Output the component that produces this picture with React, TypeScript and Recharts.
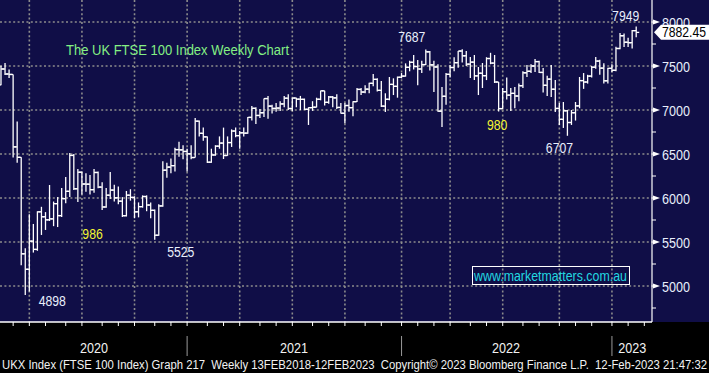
import { ComposedChart, Bar, Scatter, XAxis, YAxis, CartesianGrid } from "recharts";

// weekly bars, Feb 2020 -> Feb 2023 (index = week number)
const opens = [
  7286, 7466, 7409, 7404, 6581, 6462, 5366, 5190, 5510, 5416,
  5843, 5787, 5752, 5763, 5936, 5800, 5993, 6076, 6484, 6105,
  6293, 6159, 6157, 6095, 6290, 6124, 5898, 6032, 6090, 6002,
  5964, 5799, 6032, 6007, 5843, 5902, 6017, 5920, 5860, 5577,
  5910, 6316, 6351, 6368, 6550, 6547, 6529, 6502, 6460, 6873,
  6735, 6695, 6407, 6489, 6589, 6624, 6483, 6630, 6761, 6709,
  6741, 6737, 6916, 7019, 6938, 6969, 7130, 7044, 7018, 7022,
  7069, 7134, 7017, 7136, 7123, 7121, 7008, 7027, 7032, 7122,
  7218, 7087, 7148, 7138, 7029, 6963, 7051, 7027, 7095, 7234,
  7204, 7237, 7303, 7348, 7223, 7044, 7122, 7291, 7269, 7372,
  7385, 7485, 7542, 7494, 7466, 7516, 7661, 7513, 7489, 6987,
  7156, 7405, 7483, 7538, 7670, 7616, 7521, 7544, 7388, 7418,
  7390, 7585, 7533, 7318, 7016, 7208, 7169, 7189, 7159, 7276,
  7423, 7440, 7500, 7550, 7427, 7281, 7351, 7236, 7018, 6894,
  6991, 6858, 6969, 7047, 7334, 7318, 7385, 7486, 7556, 7476,
  7332, 7473, 7451, 7699, 7844, 7770, 7765, 7902,
];
const highs = [
  7502, 7535, 7460, 7404, 6870, 6462, 5430, 5815, 5705, 5849,
  5900, 5840, 6148, 5960, 6011, 6114, 6239, 6511, 6500, 6330,
  6300, 6280, 6260, 6330, 6300, 6180, 6115, 6296, 6150, 6130,
  6010, 6080, 6100, 6020, 5950, 6030, 6030, 5950, 5870, 5930,
  6418, 6400, 6450, 6570, 6640, 6600, 6560, 6600, 6909, 6880,
  6800, 6700, 6560, 6600, 6700, 6800, 6700, 6780, 6800, 6760,
  6800, 6920, 7045, 7030, 7010, 7130, 7160, 7060, 7080, 7100,
  7160, 7180, 7140, 7140, 7160, 7130, 7030, 7100, 7140, 7220,
  7220, 7160, 7160, 7180, 7080, 7080, 7120, 7100, 7250, 7250,
  7280, 7310, 7409, 7360, 7330, 7190, 7375, 7360, 7380, 7420,
  7530, 7560, 7625, 7568, 7560, 7687, 7670, 7560, 7520, 7262,
  7420, 7510, 7600, 7670, 7690, 7670, 7602, 7625, 7489, 7534,
  7600, 7650, 7625, 7318, 7250, 7370, 7250, 7260, 7300, 7440,
  7511, 7520, 7580, 7560, 7477, 7390, 7511, 7341, 7080, 7091,
  7000, 7000, 7091, 7375, 7420, 7400, 7500, 7602, 7570, 7530,
  7480, 7520, 7720, 7875, 7870, 7820, 7909, 7949,
];
const lows = [
  7280, 7398, 7365, 6460, 6400, 5237, 4898, 4937, 5380, 5400,
  5580, 5637, 5739, 5680, 5670, 5784, 5940, 6011, 6091, 5955,
  6040, 6070, 6040, 6060, 6110, 5864, 5890, 5990, 5960, 5930,
  5784, 5790, 5970, 5770, 5780, 5890, 5850, 5770, 5525, 5570,
  5900, 6230, 6280, 6300, 6470, 6440, 6300, 6440, 6460, 6700,
  6650, 6398, 6400, 6480, 6560, 6443, 6480, 6580, 6690, 6560,
  6700, 6730, 6880, 6840, 6910, 6920, 6900, 6960, 6980, 6990,
  7030, 7000, 6990, 7030, 7000, 7000, 6830, 6990, 7030, 7110,
  7050, 7070, 7030, 7010, 6960, 6850, 6980, 6930, 7090, 7170,
  7190, 7190, 7270, 7210, 7034, 6977, 7110, 7170, 7140, 7360,
  7380, 7440, 7460, 7280, 7420, 7510, 7450, 7205, 6980, 6807,
  7060, 7370, 7440, 7480, 7540, 7500, 7364, 7341, 7170, 7250,
  7340, 7520, 7307, 6983, 7010, 7120, 6990, 7020, 7100, 7250,
  7375, 7420, 7432, 7420, 7200, 7160, 7148, 6977, 6830, 6796,
  6707, 6830, 6880, 7020, 7240, 7300, 7370, 7470, 7400, 7300,
  7300, 7430, 7440, 7690, 7716, 7716, 7700, 7826,
];
const closes = [
  7466, 7409, 7404, 6581, 6462, 5366, 5190, 5510, 5416, 5843,
  5787, 5752, 5763, 5936, 5800, 5993, 6076, 6484, 6105, 6293,
  6159, 6157, 6095, 6290, 6124, 5898, 6032, 6090, 6002, 5964,
  5799, 6032, 6007, 5843, 5902, 6017, 5920, 5860, 5577, 5910,
  6316, 6351, 6368, 6550, 6547, 6529, 6502, 6460, 6873, 6735,
  6695, 6407, 6489, 6589, 6624, 6483, 6630, 6761, 6709, 6741,
  6737, 6916, 7019, 6938, 6969, 7130, 7044, 7018, 7022, 7069,
  7134, 7017, 7136, 7123, 7121, 7008, 7027, 7032, 7122, 7218,
  7087, 7148, 7138, 7029, 6963, 7051, 7027, 7095, 7234, 7204,
  7237, 7303, 7348, 7223, 7044, 7122, 7291, 7269, 7372, 7385,
  7485, 7542, 7494, 7466, 7516, 7661, 7513, 7489, 6987, 7156,
  7405, 7483, 7538, 7670, 7616, 7521, 7544, 7388, 7418, 7390,
  7585, 7533, 7318, 7016, 7208, 7169, 7189, 7159, 7276, 7423,
  7440, 7500, 7550, 7427, 7281, 7351, 7236, 7018, 6894, 6991,
  6858, 6969, 7047, 7334, 7318, 7385, 7486, 7556, 7476, 7332,
  7473, 7451, 7699, 7844, 7770, 7765, 7902, 7882,
];
const lastPrice = 7882.45;

// axis ticks (week index units)
const monthTicks = [
  3, 7, 11, 16, 20, 25, 29, 33, 38, 42, 46, 51, 55, 59, 64, 68, 72, 77, 81,
  85, 90, 94, 99, 103, 107, 111, 116, 120, 124, 129, 133, 138, 142, 146, 151, 155, 159,
];
const quarterTicks = [7, 20, 33, 46, 59, 72, 85, 99, 111, 124, 138, 151];
const yearLabels = ["2020", "2021", "2022", "2023"];
const yearMids = [23, 72.4, 124.8, 156];
const yearStarts = [46, 99, 151];
const priceGrid = [5000, 5500, 6000, 6500, 7000, 7500, 8000];
const priceMinor = [4750, 5250, 5750, 6250, 6750, 7250, 7750];

// annotated extremes
const notes = [
  { i: 105, price: 7687, text: "7687" },
  { i: 157, price: 7949, text: "7949" },
  { i: 123, price: 6983, text: "980" },
  { i: 140, price: 6707, text: "6707" },
  { i: 6, price: 4898, text: "4898" },
  { i: 23, price: 6060, text: "986" },
  { i: 38, price: 5525, text: "5525" },
];
const noteOffset: Record<string, [number, number]> = {
  "7687": [-14, -7.5],
  "7949": [-10.5, -5.5],
  "980": [-1.5, 18.5],
  "6707": [-8, 17],
  "4898": [27, 11],
  "986": [-1.5, 46],
  "5525": [26, 17],
};
const yellowNotes = ["980", "986"];

const data = closes.map((close, i) => ({
  i,
  open: opens[i],
  high: highs[i],
  low: lows[i],
  close,
}));

const NAVY = "#100e47";
const LABEL = "#e9eefc";
const FONT = "'Liberation Sans', Arial, sans-serif";

const OhlcBar = (props: any) => {
  const { x, y, width, height, payload } = props;
  if (!payload) return null;
  const top = Math.min(y, y + height);
  const bottom = Math.max(y, y + height);
  const cx = x + width / 2;
  const span = payload.high - payload.low || 1;
  const yOf = (v: number) => top + ((payload.high - v) / span) * (bottom - top);
  const yo = yOf(payload.open);
  const yc = yOf(payload.close);
  return (
    <g stroke="#ffffff" strokeWidth={1.3}>
      <line x1={cx} x2={cx} y1={top} y2={bottom} />
      <line x1={cx - 3} x2={cx} y1={yo} y2={yo} />
      <line x1={cx} x2={cx + 3} y1={yc} y2={yc} />
    </g>
  );
};

const NoteText = (props: any) => {
  const n = props.payload;
  if (!n) return null;
  const [dx, dy] = noteOffset[n.text];
  return (
    <text
      x={props.cx + dx}
      y={props.cy + dy}
      textAnchor="middle"
      fontSize={15}
      fontFamily={FONT}
      fill={yellowNotes.includes(n.text) ? "#f5f532" : LABEL}
      textLength={n.text.length * 6.8}
      lengthAdjust="spacingAndGlyphs"
    >
      {n.text}
    </text>
  );
};

const PriceTick = (props: any) => {
  const { x, y, payload } = props;
  const v = payload.value;
  if (v === lastPrice) {
    return (
      <g>
        <polygon
          points={`${x + 2},${y} ${x + 9},${y - 7.5} 709,${y - 7.5} 709,${y + 7.5} ${x + 9},${y + 7.5}`}
          fill="#ffffff"
        />
        <text x={x + 10} y={y + 5} fontSize={15} fontFamily={FONT} fill="#000"
          textLength={44} lengthAdjust="spacingAndGlyphs">
          {v.toFixed(2)}
        </text>
      </g>
    );
  }
  if (priceMinor.includes(v)) {
    return <line x1={x} x2={x + 4} y1={y} y2={y} stroke="#fff" strokeWidth={1} />;
  }
  return (
    <g>
      <polygon points={`${x + 1},${y - 2.5} ${x + 1},${y + 2.5} ${x + 8},${y}`} fill="#fff" />
      <line x1={x} x2={x + 4} y1={y} y2={y} stroke="#fff" strokeWidth={1} />
      <text x={x + 10} y={y + 5.5} fontSize={15} fontFamily={FONT} fill={LABEL}
        textLength={28} lengthAdjust="spacingAndGlyphs">
        {v}
      </text>
    </g>
  );
};

const YearTick = (props: any) => {
  const { x, y, payload } = props;
  const k = yearMids.indexOf(payload.value);
  if (k < 0) {
    return <line x1={x} x2={x} y1={y - 4} y2={y + 16} stroke="#9a9a9a" strokeWidth={1} />;
  }
  return (
    <text x={x} y={y + 13} textAnchor="middle" fontSize={15} fontFamily={FONT} fill="#f2f2f2"
      textLength={28} lengthAdjust="spacingAndGlyphs">
      {yearLabels[k]}
    </text>
  );
};

const EmptyTick = () => <g />;

export default function App() {
  return (
    <div
      style={{
        position: "absolute",
        left: 0,
        top: 0,
        width: 709,
        height: 373,
        background: `linear-gradient(to bottom, ${NAVY} 0px, ${NAVY} 322px, #000 322px, #000 373px)`,
      }}
    >
      <ComposedChart
        width={709}
        height={373}
        data={data}
        margin={{ top: 0, right: 0, bottom: 0, left: 0 }}
      >
        <CartesianGrid
          horizontalValues={priceGrid}
          verticalValues={quarterTicks}
          stroke="#8c8c8c"
          strokeWidth={1.6}
          strokeDasharray="2 2.4"
        />
        <XAxis
          dataKey="i"
          type="number"
          domain={[-0.25, 160.9]}
          allowDataOverflow
          ticks={monthTicks}
          interval={0}
          height={18}
          tickSize={4}
          tickLine={{ stroke: "#fff", strokeWidth: 1 }}
          axisLine={{ stroke: "#fff", strokeWidth: 1.5 }}
          tick={<EmptyTick />}
        />
        <XAxis
          xAxisId="yr"
          dataKey="i"
          type="number"
          domain={[-0.25, 160.9]}
          allowDataOverflow
          ticks={[...yearMids, ...yearStarts]}
          interval={0}
          height={33}
          tickSize={0}
          tickMargin={0}
          tickLine={false}
          axisLine={false}
          tick={<YearTick />}
        />
        <YAxis
          orientation="right"
          type="number"
          domain={[4591, 8250]}
          allowDataOverflow
          ticks={[...priceMinor, ...priceGrid, lastPrice]}
          interval={0}
          width={57}
          tickSize={0}
          tickMargin={0}
          tickLine={false}
          axisLine={{ stroke: "#fff", strokeWidth: 1.2 }}
          tick={<PriceTick />}
        />
        <Bar
          dataKey={(d: any) => [d.low, d.high]}
          barSize={4}
          shape={<OhlcBar />}
          isAnimationActive={false}
        />
        <Scatter
          data={notes}
          dataKey="price"
          shape={<NoteText />}
          isAnimationActive={false}
        />
      </ComposedChart>
      <svg
        width={709}
        height={373}
        style={{ position: "absolute", left: 0, top: 0, pointerEvents: "none" }}
      >
        <text x={66} y={54.5} fontSize={14} fontFamily={FONT} fill="#84f084"
          textLength={223} lengthAdjust="spacingAndGlyphs">
          The UK FTSE 100 Index Weekly Chart
        </text>
        <rect x={472.5} y={266.5} width={157} height={18} fill="none" stroke="#fff" strokeWidth={1} />
        <text x={474} y={280.5} fontSize={14} fontFamily={FONT} fill="#22d8e0"
          textLength={153} lengthAdjust="spacingAndGlyphs">
          www.marketmatters.com.au
        </text>
        <text x={2} y={369} fontSize={12.5} fontFamily={FONT} fill="#f2f2f2"
          textLength={705} lengthAdjust="spacingAndGlyphs" style={{ whiteSpace: "pre" }}>
          {"UKX Index (FTSE 100 Index) Graph 217  Weekly 13FEB2018-12FEB2023  Copyright\u00a9 2023 Bloomberg Finance L.P.  12-Feb-2023 21:47:32"}
        </text>
      </svg>
    </div>
  );
}
